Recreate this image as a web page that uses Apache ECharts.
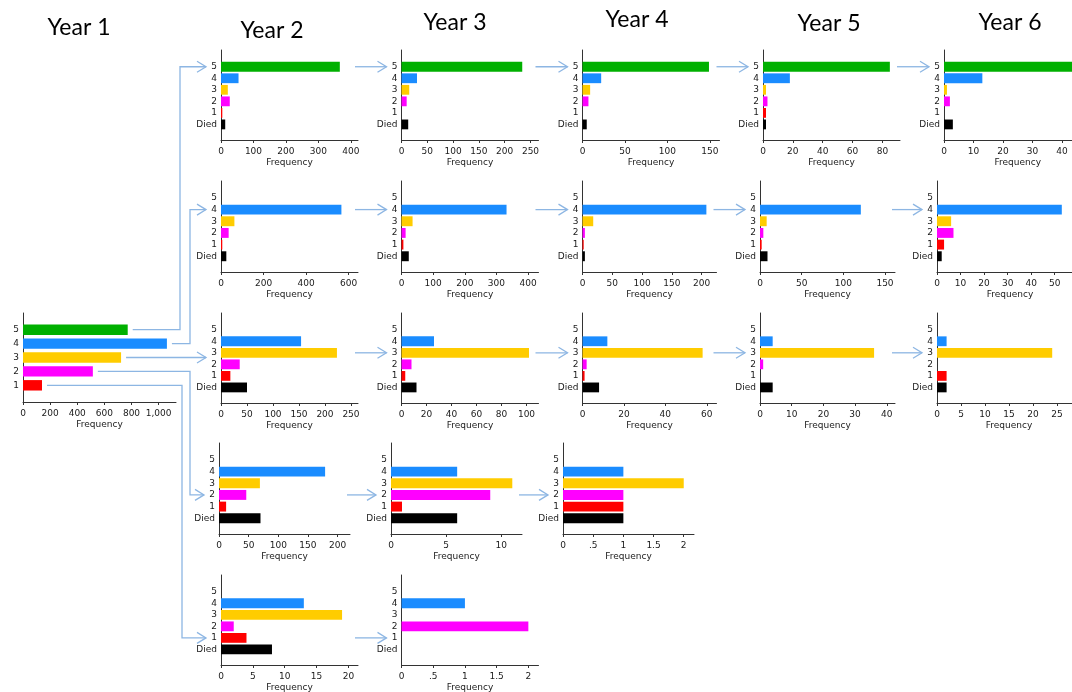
<!DOCTYPE html>
<html>
<head>
<meta charset="utf-8">
<title>Transitions by year</title>
<script src="https://cdn.jsdelivr.net/npm/echarts@6/dist/echarts.min.js"></script>
<style>
  html, body { margin: 0; padding: 0; background: #ffffff; overflow: hidden; }
  #main { width: 1072px; height: 692px; }
</style>
</head>
<body>
<div id="main"></div>
<script>
// ---- Data -------------------------------------------------------------
// Category index: 0 = Died, 1..5 = score
const catLabels = ['Died', '1', '2', '3', '4', '5'];
const yearTitles = ['Year 1', 'Year 2', 'Year 3', 'Year 4', 'Year 5', 'Year 6'];

// Year 1 frequencies (Died, 1, 2, 3, 4, 5) - no deaths shown in year 1
const year1Values = [0, 140, 515, 723, 1061, 772];
const year1Ticks = [0, 200, 400, 600, 800, 1000];

// Starting from score 5 in year 1 (Died, 1, 2, 3, 4, 5)
const from5Year2 = [13, 4, 27, 21, 54, 366];
const from5Year3 = [13, 0, 10, 15, 30, 234];
const from5Year4 = [5, 0, 7, 9, 22, 149];
const from5Year5 = [2, 2, 3, 2, 18, 85];
const from5Year6 = [3, 0, 2, 1, 13, 45];

// Starting from score 4
const from4Year2 = [25, 6, 36, 63, 566, 0];
const from4Year3 = [23, 6, 13, 35, 332, 0];
const from4Year4 = [4, 2, 4, 18, 208, 0];
const from4Year5 = [9, 2, 4, 8, 121, 0];
const from4Year6 = [2, 3, 7, 6, 53, 0];

// Starting from score 3
const from3Year2 = [50, 18, 36, 223, 154, 0];
const from3Year3 = [12, 3, 8, 102, 26, 0];
const from3Year4 = [8, 1, 2, 58, 12, 0];
const from3Year5 = [4, 0, 1, 36, 4, 0];
const from3Year6 = [2, 2, 0, 24, 2, 0];

// Starting from score 2
const from2Year2 = [70, 12, 46, 69, 179, 0];
const from2Year3 = [6, 1, 9, 11, 6, 0];
const from2Year4 = [1, 1, 1, 2, 1, 0];

// Starting from score 1
const from1Year2 = [8, 4, 2, 19, 13, 0];
const from1Year3 = [0, 0, 2, 0, 1, 0];

// Tick labels of the frequency axes, and where each axis line ends
const from5Ticks = [[0, 100, 200, 300, 400], [0, 50, 100, 150, 200, 250], [0, 50, 100, 150], [0, 20, 40, 60, 80], [0, 10, 20, 30, 40]];
const from5AxisEnd = [422, 265.5, 161.4, 91.8, 50];
const from4Ticks = [[0, 200, 400, 600], [0, 100, 200, 300, 400], [0, 50, 100, 150, 200], [0, 50, 100, 150], [0, 10, 20, 30, 40, 50]];
const from4AxisEnd = [644, 433, 225, 162, 62];
const from3Ticks = [[0, 50, 100, 150, 200, 250], [0, 20, 40, 60, 80, 100], [0, 20, 40, 60], [0, 10, 20, 30, 40], [0, 5, 10, 15, 20, 25]];
const from3AxisEnd = [263.5, 109.6, 64.7, 42.6, 30];
const from2Ticks = [[0, 50, 100, 150, 200], [0, 5, 10], [0, 0.5, 1, 1.5, 2]];
const from2AxisEnd = [221, 11.88, 2.17];
const from1Ticks = [[0, 5, 10, 15, 20], [0, 0.5, 1, 1.5, 2]];
const from1AxisEnd = [21.5, 2.16];
const year1AxisEnd = 1128;

// ---- Layout -----------------------------------------------------------
const barColors = ['#000000', '#ff0000', '#ff00ff', '#ffcc00', '#1a8cff', '#00b000'];
const axisColor = '#333333';
const textColor = '#1a1a1a';
const linkColor = '#8db6e3';
const smallFont = 'DejaVu Sans';

const rowTop = [50, 181, 313, 443, 575];
const rowHeight = [90, 91, 90, 91, 90];
const rowLeft = [
  [221, 401.5, 582.5, 763, 944],
  [221, 401.5, 582.5, 760, 937],
  [221, 401.5, 582.5, 760, 937],
  [219, 391, 563],
  [221, 401.5]
];
// the last column runs past the right edge of the canvas
const rowWidth = [
  [137, 137, 137, 137, 147.5],
  [137, 137, 134, 135, 146],
  [137, 137, 134, 135, 144],
  [131, 131, 131],
  [137, 137]
];
const panelYMin = -1.35, panelYMax = 6.45;

// ---- Build grids ------------------------------------------------------
const grids = [], xAxes = [], yAxes = [], series = [];

function fmtTick(v) {
  if (v >= 1000) return v.toLocaleString('en-US');
  if (v > 0 && v < 1) return String(v).replace(/^0/, '');
  return String(v);
}

function barRenderer(ratio) {
  return function (params, api) {
    const c = api.value(1);
    const p0 = api.coord([0, c]);
    const p1 = api.coord([api.value(0), c]);
    const h = api.size([0, 1])[1] * ratio;
    return {
      type: 'rect',
      shape: { x: p0[0], y: p0[1] - h / 2, width: p1[0] - p0[0], height: h },
      style: { fill: barColors[c] }
    };
  };
}

function addPanel(box, values, ticks, axisEnd, cats, yMin, yMax, ratio) {
  const i = grids.length;
  grids.push({
    left: box.left, top: box.top, width: box.width, height: box.height,
    containLabel: false, outerBoundsMode: 'none'
  });
  xAxes.push({
    gridIndex: i, type: 'value', min: 0, max: axisEnd,
    axisLine: { show: true, onZero: false, lineStyle: { color: axisColor, width: 1 } },
    axisTick: { show: true, length: 3, customValues: ticks, lineStyle: { color: axisColor } },
    axisLabel: { customValues: ticks, formatter: fmtTick, margin: 7, fontSize: 9, color: textColor, fontFamily: smallFont },
    splitLine: { show: false },
    name: 'Frequency', nameLocation: 'middle', nameGap: 18,
    nameTextStyle: { fontSize: 9, color: textColor, fontFamily: smallFont }
  });
  yAxes.push({
    gridIndex: i, type: 'value', min: yMin, max: yMax,
    axisLine: { show: true, onZero: false, lineStyle: { color: axisColor, width: 1 } },
    axisTick: { show: false },
    axisLabel: { customValues: cats, formatter: v => catLabels[v], margin: 4, fontSize: 9, color: textColor, fontFamily: smallFont },
    splitLine: { show: false }
  });
  series.push({
    type: 'custom', xAxisIndex: i, yAxisIndex: i, silent: true,
    renderItem: barRenderer(ratio),
    encode: { x: 0, y: 1 },
    data: values.map((v, c) => [v, c]).filter(d => d[0] > 0 && cats.includes(d[1]))
  });
  return i;
}

// Year 1
const year1Grid = addPanel({ left: 23, top: 313, width: 153, height: 89 },
  year1Values, year1Ticks, year1AxisEnd, [1, 2, 3, 4, 5], -0.2, 6.2, 0.75);

const rowsData = [
  { src: 5, vals: [from5Year2, from5Year3, from5Year4, from5Year5, from5Year6], ticks: from5Ticks, ends: from5AxisEnd },
  { src: 4, vals: [from4Year2, from4Year3, from4Year4, from4Year5, from4Year6], ticks: from4Ticks, ends: from4AxisEnd },
  { src: 3, vals: [from3Year2, from3Year3, from3Year4, from3Year5, from3Year6], ticks: from3Ticks, ends: from3AxisEnd },
  { src: 2, vals: [from2Year2, from2Year3, from2Year4], ticks: from2Ticks, ends: from2AxisEnd },
  { src: 1, vals: [from1Year2, from1Year3], ticks: from1Ticks, ends: from1AxisEnd }
];
const allCats = [0, 1, 2, 3, 4, 5];
const rowGrids = rowsData.map((row, r) => row.vals.map((vals, k) => addPanel(
  { left: rowLeft[r][k], top: rowTop[r], width: rowWidth[r][k], height: rowHeight[r] },
  vals, row.ticks[k], row.ends[k], allCats, panelYMin, panelYMax, 0.85)));

const chart = echarts.init(document.getElementById('main'), null, { renderer: 'canvas' });
chart.setOption({
  animation: false,
  backgroundColor: '#ffffff',
  grid: grids, xAxis: xAxes, yAxis: yAxes, series: series
});

// ---- Titles and flow arrows ------------------------------------------
const titleCenters = [[79, 28], [272, 31], [455, 23], [637, 20], [829, 24], [1010, 23]];
const graphics = yearTitles.map((t, k) => ({
  type: 'text', x: titleCenters[k][0], y: titleCenters[k][1], silent: true,
  style: { text: t, font: '23px Lato', fill: '#000000', textAlign: 'center', textVerticalAlign: 'middle' }
}));

function px(gridIndex, point) { return chart.convertToPixel({ gridIndex: gridIndex }, point); }
function line(points) {
  return { type: 'polyline', silent: true, shape: { points: points },
    style: { stroke: linkColor, lineWidth: 1.3, fill: null } };
}
function arrow(points) {
  const tip = points[points.length - 1];
  return [line(points), line([[tip[0] - 9, tip[1] - 5.5], tip, [tip[0] - 9, tip[1] + 5.5]])];
}

// elbow x position of each connector leaving year 1 (rows from score 5..1)
const elbowX = [180, 190, null, 190, 182];
const prevEnd = (gi) => grids[gi].left + Math.min(grids[gi].width, 137);
rowsData.forEach((row, r) => {
  const gi = rowGrids[r];
  // from the year-1 bar to the first panel of the row
  const barEnd = px(year1Grid, [year1Values[row.src], row.src]);
  const sx = barEnd[0] + 5, sy = barEnd[1];
  const target = px(gi[0], [0, row.src]);
  const tipX = grids[gi[0]].left - 15;
  if (elbowX[r] === null) {
    graphics.push(...arrow([[sx, sy], [tipX, sy]]));
  } else {
    graphics.push(...arrow([[sx, sy], [elbowX[r], sy], [elbowX[r], target[1]], [tipX, target[1]]]));
  }
  // between consecutive years
  for (let k = 1; k < gi.length; k++) {
    const ty = px(gi[k], [0, row.src])[1];
    graphics.push(...arrow([[prevEnd(gi[k - 1]) - 3, ty], [grids[gi[k]].left - 15, ty]]));
  }
});

chart.setOption({ graphic: graphics });
</script>
</body>
</html>
